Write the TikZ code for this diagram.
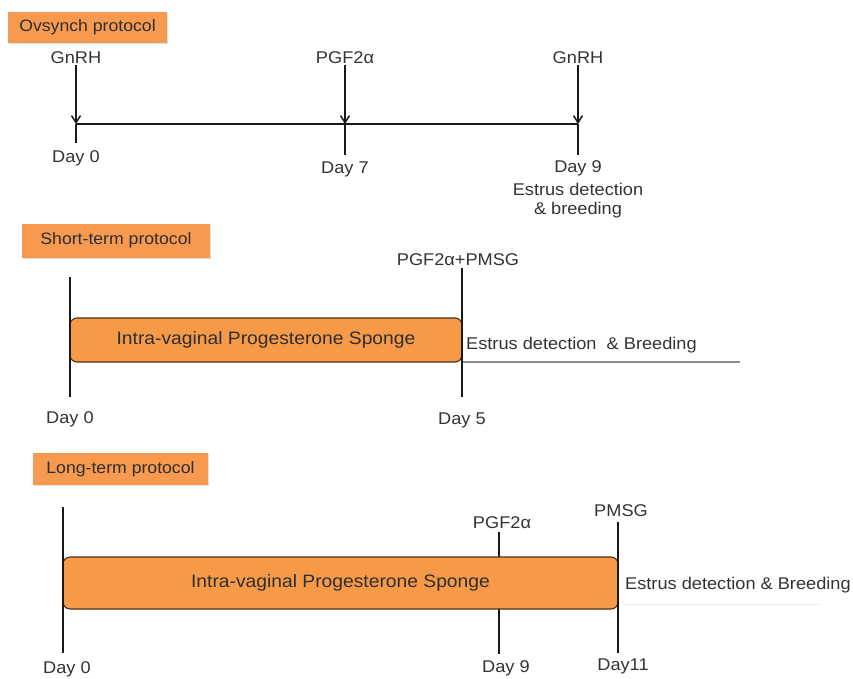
\documentclass[tikz,border=0pt]{standalone}
\usepackage{fontspec}
\setmainfont{Liberation Sans}[FakeStretch=1.07]
\usetikzlibrary{arrows.meta,shadows}
\definecolor{orng}{HTML}{F79A50}
\definecolor{sponge}{HTML}{F79A48}
\definecolor{edge}{HTML}{4A3018}
\definecolor{txtc}{HTML}{333333}
\begin{document}
\begin{tikzpicture}[x=1pt,y=-1pt,
  txt/.style={text=txtc,font=\fontsize{17}{20}\selectfont,inner sep=0pt},
  lbl/.style={fill=orng,text=txtc!90!black,font=\fontsize{16.5}{19}\selectfont,inner sep=0pt,
    drop shadow={shadow xshift=1.2pt,shadow yshift=-1.2pt,fill=black!25,opacity=0.5}},
  spongebox/.style={fill=sponge,draw=edge,line width=1.1pt,rounded corners=7pt,
    text=txtc!90!black,font=\fontsize{18}{21}\selectfont,inner sep=0pt},
  tl/.style={line width=1.7pt,black!90},
  arr/.style={tl,-{Straight Barb[length=7pt,width=9pt,line width=1.5pt]}},
  thin/.style={line width=1.1pt,black!45}
]
\useasboundingbox (0,0) rectangle (853,678);

% ---------------- Ovsynch ----------------
\node[lbl,minimum width=159pt,minimum height=31pt] (ovs) at (87.5,27.5) {Ovsynch protocol};
\node[txt] (g1) at (76,58) {GnRH};
\node[txt] (p1) at (345,58) {PGF2α};
\node[txt] (g2) at (578,58) {GnRH};
\coordinate (a0) at (76,124);
\coordinate (a7) at (345,124);
\coordinate (a9) at (578,124);
\coordinate (a0b) at (76,143);
\coordinate (a7b) at (345,155);
\coordinate (a9b) at (578,155);
\draw[tl] (a0) -- (a9);
\draw[arr] (g1.south) ++(0,1) -- (a0);
\draw[arr] (p1.south) ++(0,1) -- (a7);
\draw[arr] (g2.south) ++(0,1) -- (a9);
\draw[tl] (a0) -- (a0b);
\draw[tl] (a7) -- (a7b);
\draw[tl] (a9) -- (a9b);
\node[txt] (d0) at (76,158) {Day 0};
\node[txt] (d7) at (345,169) {Day 7};
\node[txt] (d9) at (578,168) {Day 9};
\node[txt] (e9) at (578,189) {Estrus detection};
\node[txt] (b9) at (578,210) {\& breeding};

% ---------------- Short-term ----------------
\node[lbl,minimum width=188pt,minimum height=34pt] (st) at (116,240.5) {Short-term protocol};
\coordinate (s0t) at (70,277);
\coordinate (s0b) at (70,397);
\coordinate (s5t) at (462,268);
\coordinate (s5b) at (462,397);
\coordinate (sl) at (462,362);
\coordinate (sr) at (740,362);
\draw[thin] (sl) -- (sr);
\node[spongebox,minimum width=392pt,minimum height=44pt] (sp1) at (266,340) {Intra-vaginal Progesterone Sponge};
\draw[tl] (s0t) -- (s0b);
\draw[tl] (s5t) -- (s5b);
\node[txt] (pp) at (458,260) {PGF2α+PMSG};
\node[txt,anchor=west] (eb1) at (466,345) {Estrus detection\ \ \& Breeding};
\node[txt] (sd0) at (70,419) {Day 0};
\node[txt] (sd5) at (462,420) {Day 5};

% ---------------- Long-term ----------------
\node[lbl,minimum width=175pt,minimum height=32pt] (lt) at (120.5,469) {Long-term protocol};
\coordinate (l0t) at (63,507);
\coordinate (l0b) at (63,653);
\coordinate (l9t) at (499,532);
\coordinate (l9b) at (499,654);
\coordinate (l11t) at (618,522);
\coordinate (l11b) at (618,653);
\coordinate (ll) at (625,604);
\coordinate (lr) at (820,604);
\draw[line width=1pt,black!8] (ll) -- (lr);
\draw[tl] (l9t) -- (l9b);
\node[spongebox,minimum width=555pt,minimum height=52pt] (sp2) at (340.5,583) {Intra-vaginal Progesterone Sponge};
\draw[tl] (l0t) -- (l0b);
\draw[tl] (l11t) -- (l11b);
\node[txt] (lp) at (502,523) {PGF2α};
\node[txt] (lm) at (621,511) {PMSG};
\node[txt,anchor=west] (eb2) at (625,585) {Estrus detection \& Breeding};
\node[txt] (ld0) at (67,669) {Day 0};
\node[txt] (ld9) at (506,668) {Day 9};
\node[txt] (ld11) at (623,666) {Day11};
\end{tikzpicture}
\end{document}
